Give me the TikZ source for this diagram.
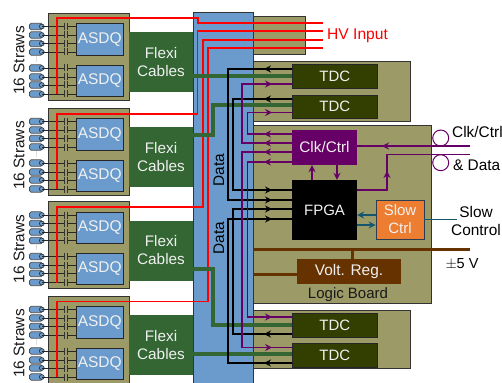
\documentclass[tikz,border=0pt]{standalone}
\usepackage{fontspec}
\setmainfont{Liberation Sans}
\usetikzlibrary{arrows.meta,calc}
\definecolor{olive}{HTML}{9C9A66}
\definecolor{panelblue}{HTML}{6A9BCC}
\definecolor{flexgreen}{HTML}{336633}
\definecolor{tdcgreen}{HTML}{333F00}
\definecolor{regbrown}{HTML}{663300}
\definecolor{clkpurple}{HTML}{660066}
\definecolor{slowor}{HTML}{ED7D31}
\definecolor{slowteal}{HTML}{14566E}
\definecolor{edge}{HTML}{333333}
\definecolor{pale}{HTML}{F0F0F0}
\newcommand{\nbox}[7]{%
  \pgfmathsetmacro{\cxx}{((#3)+(#5))/2}\pgfmathsetmacro{\cyy}{((#4)+(#6))/2}%
  \pgfmathsetmacro{\wdd}{(#5)-(#3)}\pgfmathsetmacro{\htt}{(#6)-(#4)}%
  \node[#2,minimum width=\wdd pt,minimum height=\htt pt] (#1) at (\cxx,\cyy) {#7};}
\tikzset{
  lbl/.style={font=\fontsize{15.4}{18}\selectfont,inner sep=0pt},
  board/.style={draw=edge,fill=olive,line width=0.9pt,inner sep=0pt},
  asdqbox/.style={draw=black!85,fill=panelblue,line width=0.9pt,inner sep=0pt,text=pale,font=\fontsize{15.5}{18}\selectfont},
  flexbox/.style={fill=flexgreen,inner sep=0pt,text=pale,align=center,font=\fontsize{15.3}{18}\selectfont},
  tdcbox/.style={draw=black!85,fill=tdcgreen,line width=0.9pt,inner sep=0pt,text=pale,font=\fontsize{15}{18}\selectfont},
  strawbody/.style={draw=black!70,fill=panelblue,rounded corners=1.5pt,line width=0.7pt,minimum width=13pt,minimum height=6.4pt,inner sep=0pt},
  strawend/.style={circle,draw=black!80,fill=panelblue,line width=0.7pt,minimum size=4.8pt,inner sep=0pt},
  hvline/.style={draw=red,line width=1.5pt},
  flexline/.style={draw=flexgreen,line width=4pt},
  dataline/.style={draw=black,line width=1.1pt},
  clkline/.style={draw=clkpurple,line width=1.1pt},
  slowline/.style={draw=slowteal,line width=1.1pt},
  pwrline/.style={draw=regbrown,line width=3pt},
  headtip/.style={-{Stealth[length=7pt,width=7pt,inset=2.5pt]}},
}
\begin{document}
\begin{tikzpicture}[x=1pt,y=-1pt]
\clip (0,0) rectangle (502,382);
\fill[white] (0,0) rectangle (502,382);
% boards at the right
\nbox{hvbox}{board}{253}{16.5}{305}{54}{}
\nbox{tdcupper}{board}{253}{61}{410}{121}{}
\nbox{tdclower}{board}{253}{310}{410}{368}{}
\nbox{logic}{board}{253}{125.5}{431}{303}{}
% data panel
\nbox{panel}{draw=edge,fill=panelblue,line width=0.9pt,inner sep=0pt}{193}{12}{253}{383}{}
% front-end modules
\foreach \m/\t in {1/13,2/108,3/201.5,4/296}{
  \nbox{mod\m}{board}{48.5}{\t}{129}{\t+87}{}
  \nbox{asdqa\m}{asdqbox}{76}{\t+10.5}{123.5}{\t+42}{ASDQ}
  \nbox{asdqb\m}{asdqbox}{76}{\t+52}{123.5}{\t+83}{ASDQ}
  \nbox{flexi\m}{flexbox}{129}{\t+19}{193}{\t+79}{Flexi\\Cables}
  \node[lbl,rotate=90,text=black!90] (lab\m) at (19,\t+47.5) {16 Straws};
  \node[rotate=90,text=black!50,font=\fontsize{7}{8}\selectfont,inner sep=0pt] (dots\m) at (36.5,\t+46.5) {...};
  \foreach \i/\s/\a in {1/13.5/a,2/22/a,3/30.5/a,4/39/a,5/55/b,6/64/b,7/72/b,8/81/b}{
    \node[strawbody] (sb\m\i) at (36,\t+\s) {};
    \node[strawend] (se\m\i) at (41.8,\t+\s) {};
    \draw[black!85,line width=0.8pt] (se\m\i.center) -- (64.5,\t+\s);
    \draw[black!85,line width=0.8pt] (67.5,\t+\s) -- (asdq\a\m.west |- se\m\i.center);
    \draw[edge,line width=0.8pt] (64.5,\t+\s-3.5) -- (64.5,\t+\s+3.5);
    \draw[edge,line width=0.8pt] (67.5,\t+\s-3.5) -- (67.5,\t+\s+3.5);
  }
}
% TDCs and logic-board blocks
\nbox{tdcA}{tdcbox}{292.5}{64.5}{377}{88}{TDC}
\nbox{tdcB}{tdcbox}{292.5}{95}{377}{118}{TDC}
\nbox{tdcC}{tdcbox}{292.5}{313}{377}{337}{TDC}
\nbox{tdcD}{tdcbox}{292.5}{343}{377}{367}{TDC}
\nbox{clk}{fill=clkpurple,inner sep=0pt,text=pale,font=\fontsize{15.3}{18}\selectfont}{292}{130}{357}{165}{Clk/Ctrl}
\nbox{fpga}{fill=black,inner sep=0pt,text=pale,font=\fontsize{15}{18}\selectfont}{292}{180}{357}{240}{FPGA}
\nbox{slow}{draw=black!60!panelblue,fill=slowor,line width=0.9pt,inner sep=0pt,text=pale,align=center,font=\fontsize{15}{18}\selectfont}{376}{200}{424}{239}{Slow\\Ctrl}
\nbox{volt}{fill=regbrown,inner sep=0pt,text=pale,font=\fontsize{15.4}{18}\selectfont}{297}{259}{401}{284}{Volt. Reg.}
% HV lines
\coordinate (hvA) at (323,23);
\coordinate (hvB) at (323,31);
\coordinate (hvC) at (323,40);
\coordinate (hvD) at (323,48);
\draw[hvline] (se18.center) ++(15.2,0) -- (57,18) -- (198,18) -- (198,23) -- (hvA);
\draw[hvline] (se28.center) ++(15.2,0) -- (57,114) -- (197.5,114) -- (197.5,31) -- (hvB);
\draw[hvline] (se38.center) ++(15.2,0) -- (57,207) -- (203,207) -- (203,40) -- (hvC);
\draw[hvline] (se48.center) ++(15.2,0) -- (57,301.5) -- (208,301.5) -- (208,48) -- (hvD);
\node[lbl,text=red,anchor=west,font=\fontsize{15.6}{18}\selectfont] (hvtext) at (327,36) {HV Input};
% flexi cables
\draw[flexline] (flexi1.east |- 0,76) -- (tdcA.west |- 0,76);
\draw[flexline] (tdcB.west |- 0,105) -- (213,105) -- (213,135) -- (flexi2.east |- 0,135);
\draw[flexline] (flexi3.east |- 0,269) -- (213,269) -- (213,325) -- (tdcC.west |- 0,325);
\draw[flexline] (flexi4.east |- 0,353.5) -- (tdcD.west |- 0,353.5);
% data lines
\draw[dataline] (tdcA.west |- 0,69) -- (228,69) -- (228,200) -- (fpga.west |- 0,200);
\draw[dataline] (tdcB.west |- 0,99) -- (233,99) -- (233,190) -- (fpga.west |- 0,190);
\draw[dataline] (tdcC.west |- 0,334) -- (233,334) -- (233,209) -- (fpga.west |- 0,209);
\draw[dataline] (tdcD.west |- 0,363) -- (228,363) -- (228,219) -- (fpga.west |- 0,219);
\foreach \a/\y in {tdcA/69,tdcB/99,tdcC/334,tdcD/363}
  \draw[dataline,headtip] (\a.west |- 0,\y) -- (264,\y);
\foreach \y in {190,200,209,219}
  \draw[dataline,headtip] (fpga.west |- 0,\y) ++(-30,0) -- (272,\y);
% clock lines
\draw[clkline] (tdcA.west |- 0,84) -- (242,84) -- (242,143) -- (clk.west |- 0,143);
\draw[clkline] (tdcB.west |- 0,112.5) -- (247.5,112.5) -- (247.5,134) -- (clk.west |- 0,134);
\draw[clkline] (tdcC.west |- 0,317) -- (247.5,317) -- (247.5,162) -- (clk.west |- 0,162);
\draw[clkline] (tdcD.west |- 0,347.5) -- (242,347.5) -- (242,152) -- (clk.west |- 0,152);
\foreach \a/\y in {tdcA/84,tdcB/112.5}
  \draw[clkline,headtip] (250,\y) -- (272,\y);
\foreach \y in {317,347.5}
  \draw[clkline,headtip] (250,\y) -- (272,\y);
\foreach \y in {134,143,152,162}
  \draw[clkline,headtip] (clk.west |- 0,\y) -- (264,\y);
\draw[clkline,headtip] (fpga.north -| 312,0) -- (clk.south -| 312,0);
\draw[clkline,headtip] (clk.south -| 337,0) -- (fpga.north -| 337,0);
\coordinate (cdA) at (470,146);
\coordinate (cdB) at (470,154.7);
\draw[clkline] (cdA) -- (clk.east |- cdA);
\draw[clkline,headtip] (cdA) -- (382,146);
\draw[clkline] (cdB) -- (387,154.7) -- (387,190) -- (fpga.east |- 0,190);
\draw[clkline,headtip] (387,190) -- (387,171);
\node[circle,draw=clkpurple,line width=1pt,minimum size=16pt,inner sep=0pt] (ringA) at (440.7,138) {};
\node[circle,draw=clkpurple,line width=1pt,minimum size=16pt,inner sep=0pt] (ringB) at (440.7,162.7) {};
\node[lbl,anchor=west] (clktext) at (452,132) {Clk/Ctrl};
\node[lbl,anchor=west] (datatext) at (453,165) {\& Data};
% slow control
\draw[slowline,headtip] (slow.west |- 0,215) -- (fpga.east |- 0,215);
\draw[slowline,headtip] (fpga.east |- 0,225) -- (slow.west |- 0,225);
\coordinate (slowend) at (457,219.7);
\draw[slowline] (slow.east |- slowend) -- (slowend);
\node[lbl,align=center] (slowtext) at (476,220.5) {Slow\\Control};
% power
\coordinate (pwrend) at (470,249.5);
\draw[pwrline] (logic.west |- pwrend) -- (pwrend);
\draw[pwrline] (volt.north -| 352,0) -- (352,249.5);
\draw[pwrline] (logic.west |- 0,274) -- (volt.west |- 0,274);
\node[lbl,font=\fontsize{14.5}{18}\selectfont] (pwrtext) at (462,264) {$\pm$5 V};
\node[lbl,text=black!90,font=\fontsize{15}{18}\selectfont] (logictext) at (348,295) {Logic Board};
% panel labels
\node[lbl,rotate=90] (dataA) at (219,170) {Data};
\node[lbl,rotate=90] (dataB) at (219,238) {Data};
\end{tikzpicture}
\end{document}
